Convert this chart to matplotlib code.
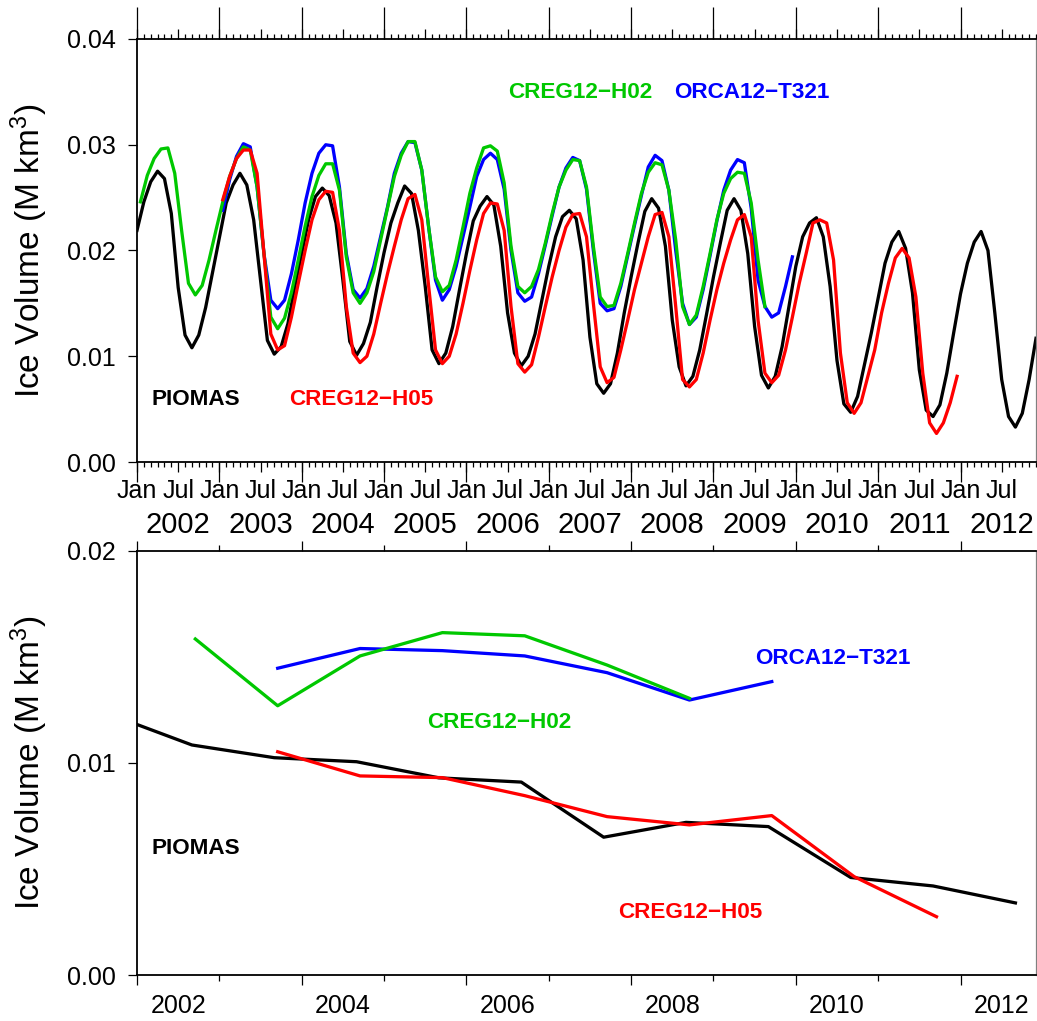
import numpy as np
import matplotlib
matplotlib.use("Agg")
import matplotlib.pyplot as plt

plt.rcParams['font.family'] = ['Liberation Sans', 'DejaVu Sans']
plt.rcParams['mathtext.fontset'] = 'custom'
plt.rcParams['mathtext.rm'] = 'Liberation Sans'
plt.rcParams['mathtext.it'] = 'Liberation Sans:italic'
plt.rcParams['mathtext.bf'] = 'Liberation Sans:bold'

# ---------------- data (monthly, top panel) ----------------
piomas_monthly = [
    # 2002
    0.0219, 0.0246, 0.0265, 0.0275, 0.0268, 0.0235, 0.0165, 0.0120, 0.0108, 0.0120, 0.0146, 0.0179,
    # 2003
    0.0212, 0.0245, 0.0262, 0.0273, 0.0262, 0.0229, 0.0172, 0.0115, 0.0102, 0.0109, 0.0131, 0.0166,
    # 2004
    0.0197, 0.0229, 0.0251, 0.0259, 0.0252, 0.0226, 0.0172, 0.0114, 0.0101, 0.0112, 0.0132, 0.0166,
    # 2005
    0.0198, 0.0226, 0.0245, 0.0261, 0.0254, 0.0219, 0.0166, 0.0106, 0.0093, 0.0103, 0.0128, 0.0163,
    # 2006
    0.0197, 0.0228, 0.0242, 0.0251, 0.0243, 0.0204, 0.0141, 0.0103, 0.0091, 0.0100, 0.0121, 0.0153,
    # 2007
    0.0185, 0.0213, 0.0232, 0.0238, 0.0230, 0.0191, 0.0118, 0.0074, 0.0065, 0.0074, 0.0103, 0.0141,
    # 2008
    0.0175, 0.0207, 0.0237, 0.0249, 0.0240, 0.0204, 0.0134, 0.0090, 0.0072, 0.0081, 0.0106, 0.0140,
    # 2009
    0.0175, 0.0207, 0.0238, 0.0249, 0.0238, 0.0197, 0.0128, 0.0082, 0.0070, 0.0081, 0.0109, 0.0147,
    # 2010
    0.0185, 0.0213, 0.0226, 0.0231, 0.0213, 0.0166, 0.0096, 0.0055, 0.0047, 0.0062, 0.0092, 0.0122,
    # 2011
    0.0155, 0.0188, 0.0208, 0.0218, 0.0202, 0.0160, 0.0087, 0.0049, 0.0043, 0.0054, 0.0084, 0.0122,
    # 2012
    0.0159, 0.0188, 0.0208, 0.0218, 0.0200, 0.0141, 0.0078, 0.0043, 0.0033, 0.0046, 0.0078, 0.0117,
]
creg_h02_monthly = [  # Jan 2002 - Aug 2009
    0.0246, 0.0271, 0.0287, 0.0296, 0.0297, 0.0273, 0.0219, 0.0169, 0.0158, 0.0167, 0.0191, 0.0219,
    0.0246, 0.0270, 0.0287, 0.0298, 0.0295, 0.0260, 0.0197, 0.0137, 0.0126, 0.0136, 0.0160, 0.0191,
    0.0223, 0.0251, 0.0271, 0.0282, 0.0282, 0.0257, 0.0194, 0.0160, 0.0150, 0.0160, 0.0180, 0.0210,
    0.0240, 0.0270, 0.0290, 0.0303, 0.0303, 0.0276, 0.0222, 0.0175, 0.0161, 0.0167, 0.0191, 0.0222,
    0.0254, 0.0278, 0.0297, 0.0299, 0.0294, 0.0264, 0.0204, 0.0166, 0.0160, 0.0166, 0.0182, 0.0207,
    0.0235, 0.0260, 0.0276, 0.0286, 0.0285, 0.0260, 0.0204, 0.0156, 0.0147, 0.0148, 0.0169, 0.0197,
    0.0226, 0.0254, 0.0274, 0.0283, 0.0281, 0.0257, 0.0210, 0.0147, 0.0130, 0.0139, 0.0166, 0.0197,
    0.0229, 0.0254, 0.0268, 0.0274, 0.0273, 0.0245, 0.0191, 0.0147,
]
orca_t321_monthly = [  # Jan 2003 - Dec 2009
    0.0238, 0.0267, 0.0289, 0.0301, 0.0298, 0.0260, 0.0197, 0.0153, 0.0145, 0.0153, 0.0178, 0.0210,
    0.0245, 0.0273, 0.0292, 0.0300, 0.0299, 0.0260, 0.0197, 0.0163, 0.0155, 0.0164, 0.0185, 0.0213,
    0.0241, 0.0273, 0.0292, 0.0303, 0.0302, 0.0276, 0.0222, 0.0172, 0.0153, 0.0163, 0.0185, 0.0213,
    0.0241, 0.0270, 0.0286, 0.0292, 0.0286, 0.0258, 0.0200, 0.0160, 0.0152, 0.0156, 0.0178, 0.0205,
    0.0233, 0.0260, 0.0278, 0.0288, 0.0285, 0.0258, 0.0200, 0.0150, 0.0143, 0.0145, 0.0166, 0.0195,
    0.0224, 0.0252, 0.0279, 0.0290, 0.0285, 0.0257, 0.0200, 0.0150, 0.0130, 0.0137, 0.0163, 0.0195,
    0.0228, 0.0257, 0.0276, 0.0286, 0.0283, 0.0240, 0.0172, 0.0147, 0.0137, 0.0141, 0.0166, 0.0194,
]
creg_h05_monthly = [  # Jan 2003 - Dec 2011
    0.0248, 0.0270, 0.0287, 0.0295, 0.0295, 0.0273, 0.0197, 0.0121, 0.0106, 0.0110, 0.0137, 0.0169,
    0.0200, 0.0229, 0.0248, 0.0256, 0.0255, 0.0219, 0.0147, 0.0103, 0.0094, 0.0100, 0.0121, 0.0150,
    0.0178, 0.0204, 0.0229, 0.0249, 0.0253, 0.0229, 0.0166, 0.0106, 0.0093, 0.0100, 0.0121, 0.0150,
    0.0181, 0.0210, 0.0235, 0.0245, 0.0244, 0.0219, 0.0147, 0.0093, 0.0085, 0.0092, 0.0118, 0.0147,
    0.0175, 0.0200, 0.0222, 0.0234, 0.0235, 0.0213, 0.0150, 0.0090, 0.0075, 0.0080, 0.0106, 0.0134,
    0.0163, 0.0188, 0.0213, 0.0234, 0.0236, 0.0213, 0.0147, 0.0078, 0.0071, 0.0078, 0.0103, 0.0134,
    0.0163, 0.0188, 0.0210, 0.0229, 0.0234, 0.0213, 0.0134, 0.0084, 0.0075, 0.0082, 0.0106, 0.0137,
    0.0169, 0.0197, 0.0226, 0.0229, 0.0226, 0.0191, 0.0103, 0.0056, 0.0046, 0.0056, 0.0081, 0.0106,
    0.0141, 0.0169, 0.0193, 0.0202, 0.0193, 0.0156, 0.0084, 0.0037, 0.0027, 0.0037, 0.0056, 0.0081,
]

# ---------------- data (September values, bottom panel) ----------------
piomas_sep_years = [2001, 2002, 2003, 2004, 2005, 2006, 2007, 2008, 2009, 2010, 2011, 2012]
piomas_sep = [0.0123, 0.01085, 0.01025, 0.01006, 0.0093, 0.0091, 0.0065, 0.0072, 0.0070, 0.0046, 0.0042, 0.0034]
creg_h02_sep_years = [2002, 2003, 2004, 2005, 2006, 2007, 2008]
creg_h02_sep = [0.01585, 0.0127, 0.01505, 0.01615, 0.0160, 0.01462, 0.01305]
orca_sep_years = [2003, 2004, 2005, 2006, 2007, 2008, 2009]
orca_sep = [0.01447, 0.0154, 0.0153, 0.01505, 0.01426, 0.01297, 0.01384]
creg_h05_sep_years = [2003, 2004, 2005, 2006, 2007, 2008, 2009, 2010, 2011]
creg_h05_sep = [0.01053, 0.00939, 0.00931, 0.00846, 0.00747, 0.00708, 0.00752, 0.00464, 0.00275]

GREEN = '#00c800'
BLUE = '#0000ff'
RED = '#ff0000'
BLACK = '#000000'

def month_axis(first_year, n, offset):
    return first_year + (np.arange(n) + offset) / 12.0

x_piomas = month_axis(2002, len(piomas_monthly), 0.0)
x_h02 = month_axis(2002, len(creg_h02_monthly), 0.5)
x_orca = month_axis(2003, len(orca_t321_monthly), 0.5)
x_h05 = month_axis(2003, len(creg_h05_monthly), 0.5)

W, H = 1037, 1021
fig = plt.figure(figsize=(W / 100, H / 100), dpi=100)

def frac_axes(l, t, r, b):
    return fig.add_axes([l / W, 1 - b / H, (r - l) / W, (b - t) / H])

ax1 = frac_axes(137, 39, 1036, 462)
ax2 = frac_axes(137, 551, 1036, 975)

xmin, xmax = 2002.0, 2002 + 131 / 12.0
LW = 2.35
TXT = dict(fontsize=16.2, fontweight='bold', va='center', ha='left')

# ---------------- top panel ----------------
ax1.plot(x_piomas, piomas_monthly, color=BLACK, lw=LW)
ax1.plot(x_orca, orca_t321_monthly, color=BLUE, lw=LW)
ax1.plot(x_h02, creg_h02_monthly, color=GREEN, lw=LW)
ax1.plot(x_h05, creg_h05_monthly, color=RED, lw=LW)
ax1.set_xlim(xmin, xmax)
ax1.set_ylim(0, 0.04)
ax1.set_yticks([0.0, 0.01, 0.02, 0.03, 0.04])
ax1.set_yticklabels(['0.00', '0.01', '0.02', '0.03', '0.04'])

half_years = np.arange(2002, 2013, 0.5)
half_years = half_years[half_years <= xmax]
ax1.set_xticks(half_years)
ax1.set_xticklabels(['Jan' if abs(h - round(h)) < 1e-6 else 'Jul' for h in half_years])
months = np.arange(0, 132) / 12.0 + 2002
ax1.set_xticks(months, minor=True)
ax1.tick_params(axis='x', which='major', direction='out', length=7.5, width=0.9,
                top=True, labelsize=18, pad=5)
ax1.tick_params(axis='x', which='minor', direction='out', length=3.6, width=0.9, top=True)
ax1.tick_params(axis='y', which='major', direction='out', length=6.5, width=0.9,
                labelsize=18, pad=9)
for lab in ax1.get_xticklabels():
    lab.set_x(lab.get_position()[0])

jans = np.arange(2002, 2013)
sec_b = ax1.secondary_xaxis('bottom')
sec_b.set_xticks(jans)
sec_b.set_xticklabels([])
sec_b.tick_params(axis='x', length=14.5, width=0.9)
sec_b.spines['bottom'].set_visible(False)

sec_t = ax1.secondary_xaxis('top')
sec_t.set_xticks(jans)
sec_t.set_xticklabels([])
sec_t.tick_params(axis='x', length=23, width=0.9)
sec_t.spines['top'].set_visible(False)

sec_y = ax1.secondary_xaxis('bottom')
sec_y.set_xticks(jans + 0.5)
sec_y.set_xticklabels([str(y) for y in jans])
sec_y.tick_params(axis='x', length=0, labelsize=21, pad=35)
sec_y.spines['bottom'].set_visible(False)

ax1.text((509 - 137) / 900, (462 - 92) / 423, 'CREG12\u2212H02', color=GREEN,
         transform=ax1.transAxes, **TXT)
ax1.text((675 - 137) / 900, (462 - 92) / 423, 'ORCA12\u2212T321', color=BLUE,
         transform=ax1.transAxes, **TXT)
ax1.text((152 - 137) / 900, (462 - 399) / 423, 'PIOMAS', color=BLACK,
         transform=ax1.transAxes, **TXT)
ax1.text((289 - 137) / 900, (462 - 399) / 423, 'CREG12\u2212H05', color=RED,
         transform=ax1.transAxes, **TXT)

# ---------------- bottom panel ----------------
sep_off = lambda yrs, off: np.array(yrs) + off / 12.0
ax2.plot(sep_off(piomas_sep_years, 8.0), piomas_sep, color=BLACK, lw=LW)
ax2.plot(sep_off(orca_sep_years, 8.5), orca_sep, color=BLUE, lw=LW)
ax2.plot(sep_off(creg_h02_sep_years, 8.5), creg_h02_sep, color=GREEN, lw=LW)
ax2.plot(sep_off(creg_h05_sep_years, 8.5), creg_h05_sep, color=RED, lw=LW)
ax2.set_xlim(xmin, xmax)
ax2.set_ylim(0, 0.02)
ax2.set_yticks([0.0, 0.01, 0.02])
ax2.set_yticklabels(['0.00', '0.01', '0.02'])
ax2.set_xticks(np.arange(2002, 2013, 2))
ax2.set_xticklabels([])
ax2.set_xticks(np.arange(2002, 2013, 1), minor=True)
ax2.tick_params(axis='x', which='major', direction='out', length=7, width=0.9, top=True)
ax2.tick_params(axis='x', which='minor', direction='out', length=4, width=0.9, top=True)
ax2.tick_params(axis='y', which='major', direction='out', length=6.5, width=0.9,
                labelsize=18, pad=9)

sec2 = ax2.secondary_xaxis('bottom')
sec2.set_xticks(np.arange(2002, 2013, 2) + 0.5)
sec2.set_xticklabels([str(y) for y in range(2002, 2013, 2)])
sec2.tick_params(axis='x', length=0, labelsize=18, pad=14)
sec2.spines['bottom'].set_visible(False)

ax2.text((756 - 137) / 900, (975 - 658) / 424, 'ORCA12\u2212T321', color=BLUE,
         transform=ax2.transAxes, **TXT)
ax2.text((427 - 137) / 900, (975 - 722) / 424, 'CREG12\u2212H02', color=GREEN,
         transform=ax2.transAxes, **TXT)
ax2.text((152 - 137) / 900, (975 - 849) / 424, 'PIOMAS', color=BLACK,
         transform=ax2.transAxes, **TXT)
ax2.text((619 - 137) / 900, (975 - 912) / 424, 'CREG12\u2212H05', color=RED,
         transform=ax2.transAxes, **TXT)

for ax in (ax1, ax2):
    ax.set_ylabel('Ice Volume (M km$^{3}$)', fontsize=24, va='center')
    ax.yaxis.set_label_coords(-0.12, 0.5)
    for s in ('left', 'bottom', 'top'):
        ax.spines[s].set_linewidth(1.3)
        ax.spines[s].set_color('black')
    ax.spines['right'].set_linewidth(0.9)
    ax.spines['right'].set_color('#808080')

fig.savefig('out.png', dpi=100)
